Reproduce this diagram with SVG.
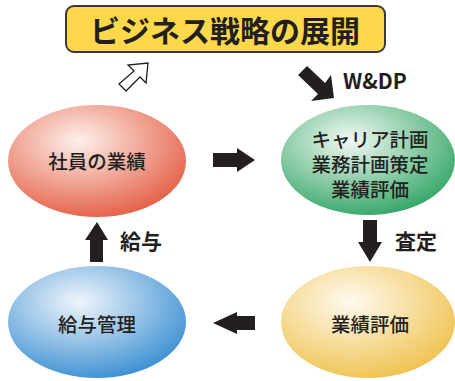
<svg xmlns="http://www.w3.org/2000/svg" width="455" height="381" viewBox="0 0 455 381">
<style>
text{font-family:"Noto Sans CJK JP","Noto Sans",sans-serif;fill:#231f20;text-anchor:middle;dominant-baseline:central}
.n{font-size:19.5px;font-weight:500}
.l{font-size:21px;font-weight:700}
.arr{fill:#231f20}
</style>
<defs>
<radialGradient id="gr" cx="0.4" cy="0.32" r="0.72"><stop offset="0" stop-color="#fdf0ea"/><stop offset="1" stop-color="#e45e45"/></radialGradient>
<radialGradient id="gg" cx="0.4" cy="0.32" r="0.72"><stop offset="0" stop-color="#f2f9f3"/><stop offset="1" stop-color="#33a566"/></radialGradient>
<radialGradient id="gb" cx="0.4" cy="0.32" r="0.72"><stop offset="0" stop-color="#f0f5fb"/><stop offset="1" stop-color="#3a8fd2"/></radialGradient>
<radialGradient id="gy" cx="0.4" cy="0.32" r="0.72"><stop offset="0" stop-color="#fffaf0"/><stop offset="1" stop-color="#efc24e"/></radialGradient>
</defs>
<g id="title">
<rect x="66" y="6" width="319" height="46" rx="8" fill="#fdd84a" stroke="#3a3a3a" stroke-width="2"/>
<text x="225" y="29" style="font-size:30px;font-weight:700">ビジネス戦略の展開</text>
</g>
<g id="n1"><ellipse cx="97" cy="161" rx="89" ry="56" fill="url(#gr)"/><text class="n" x="97" y="160">社員の業績</text></g>
<g id="n2"><ellipse cx="368" cy="160" rx="87" ry="55" fill="url(#gg)"/>
<text class="n" x="370" y="138">キャリア計画</text><text class="n" x="370" y="163">業務計画策定</text><text class="n" x="370" y="188">業績評価</text></g>
<g id="n3"><ellipse cx="368" cy="322" rx="87" ry="56" fill="url(#gy)"/><text class="n" x="370" y="323">業績評価</text></g>
<g id="n4"><ellipse cx="97" cy="322" rx="89" ry="56" fill="url(#gb)"/><text class="n" x="97" y="323">給与管理</text></g>
<g id="connectors">
<polygon class="arr" points="213,153 237,153 237,148 255,160 237,172 237,167 213,167"/>
<polygon class="arr" points="363,220 377,220 377,242 382,242 370,262 358,242 363,242"/>
<polygon class="arr" points="255,316 237,316 237,312 213,323 237,334 237,330 255,330"/>
<polygon class="arr" points="90,262 103,262 103,240 108,240 97,222 85,240 90,240"/>
<polygon class="arr" points="307,66 298,75 318,94 311,101 334,98 331,75 325,83"/>
<polygon points="126,91 119,84 134,71 128,65 148,63 146,83 140,77" fill="#fff" stroke="#231f20" stroke-width="1.3"/>
<text class="l" x="375" y="80">W&amp;DP</text>
<text class="l" x="141" y="240">給与</text>
<text class="l" x="416" y="240">査定</text>
</g>
</svg>
